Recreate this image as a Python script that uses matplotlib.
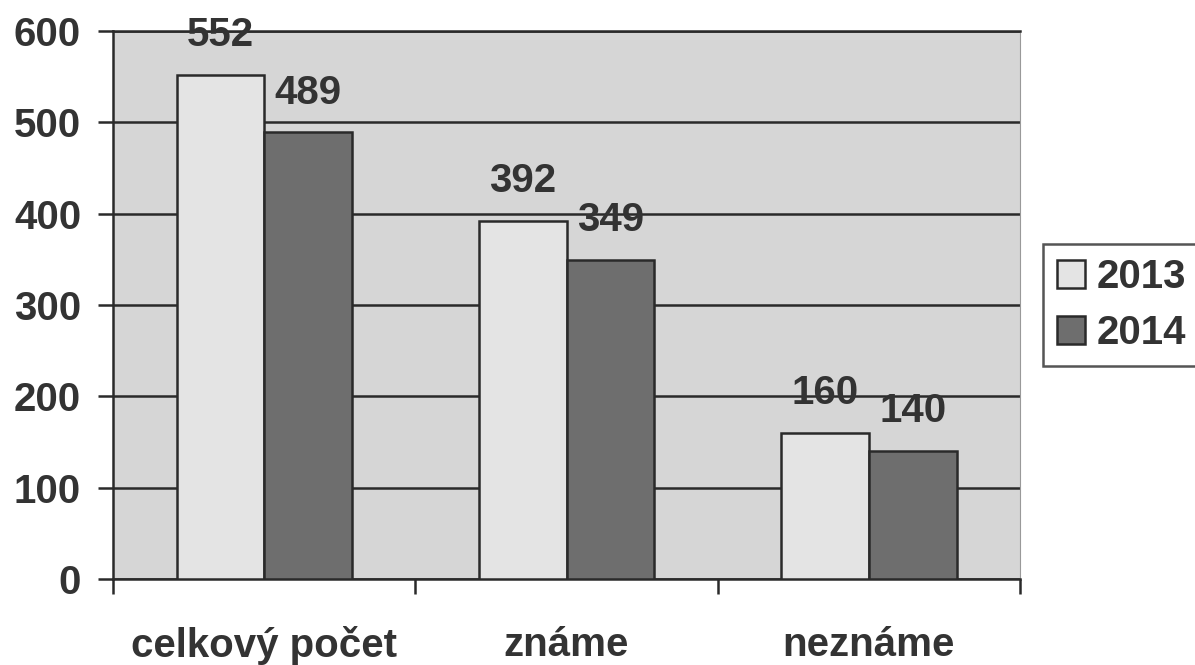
import matplotlib.pyplot as plt
import numpy as np

categories = ['celkový počet', 'známe', 'neznáme']
years = ['2013', '2014']
values_2013 = [552, 392, 160]
values_2014 = [489, 349, 140]

plt.rcParams['font.family'] = ['Liberation Sans', 'DejaVu Sans']
plt.rcParams['font.weight'] = 'bold'

fig = plt.figure(figsize=(11.95, 6.65), dpi=100)
ax = fig.add_axes([0.0946, 0.1293, 0.759, 0.824])
ax.set_facecolor('#d6d6d6')

x = np.arange(len(categories))
w = 0.29
text_col = '#333333'
line_col = '#2a2a2a'

b1 = ax.bar(x - w / 2, values_2013, w, color='#e4e4e4', edgecolor=line_col, linewidth=1.8, label=years[0], zorder=3)
b2 = ax.bar(x + w / 2, values_2014, w, color='#6e6e6e', edgecolor=line_col, linewidth=1.8, label=years[1], zorder=3)

for bars in (b1, b2):
    for rect in bars:
        ax.annotate(f'{int(rect.get_height())}', (rect.get_x() + rect.get_width() / 2, rect.get_height()),
                    xytext=(0, 15), textcoords='offset points', ha='center', va='bottom',
                    fontsize=29, fontweight='bold', color=text_col, zorder=4)

ax.set_xlim(-0.5, 2.5)
ax.set_ylim(0, 600)
ax.set_yticks(range(0, 601, 100))
ax.yaxis.grid(True, color=line_col, linewidth=1.8, zorder=1)
ax.set_axisbelow(True)

ax.set_xticks([-0.5, 0.5, 1.5, 2.5])
ax.set_xticklabels([])
ax.set_xticks(x, minor=True)
ax.set_xticklabels(categories, minor=True, fontsize=29, fontweight='bold', color=text_col)
ax.tick_params(axis='x', which='minor', length=0, pad=34)
ax.tick_params(axis='x', which='major', length=11, width=1.8, color=line_col, direction='out')
ax.tick_params(axis='y', length=11, width=1.8, color=line_col, labelsize=29, labelcolor=text_col, pad=12)
for lab in ax.get_yticklabels():
    lab.set_fontweight('bold')

for side in ('left', 'bottom', 'top'):
    ax.spines[side].set_color(line_col)
    ax.spines[side].set_linewidth(1.8)
ax.spines['right'].set_color('#999999')

leg = ax.legend(loc='center left', bbox_to_anchor=(1.025, 0.5), fontsize=29, frameon=True,
                fancybox=False, edgecolor=line_col, handlelength=0.7, handleheight=0.7,
                handletextpad=0.3, borderpad=0.35, labelspacing=0.45, borderaxespad=0)
leg.get_frame().set_linewidth(1.8)
for t in leg.get_texts():
    t.set_color(text_col)
    t.set_fontweight('bold')

fig.savefig('out.png', dpi=100, facecolor='white')
